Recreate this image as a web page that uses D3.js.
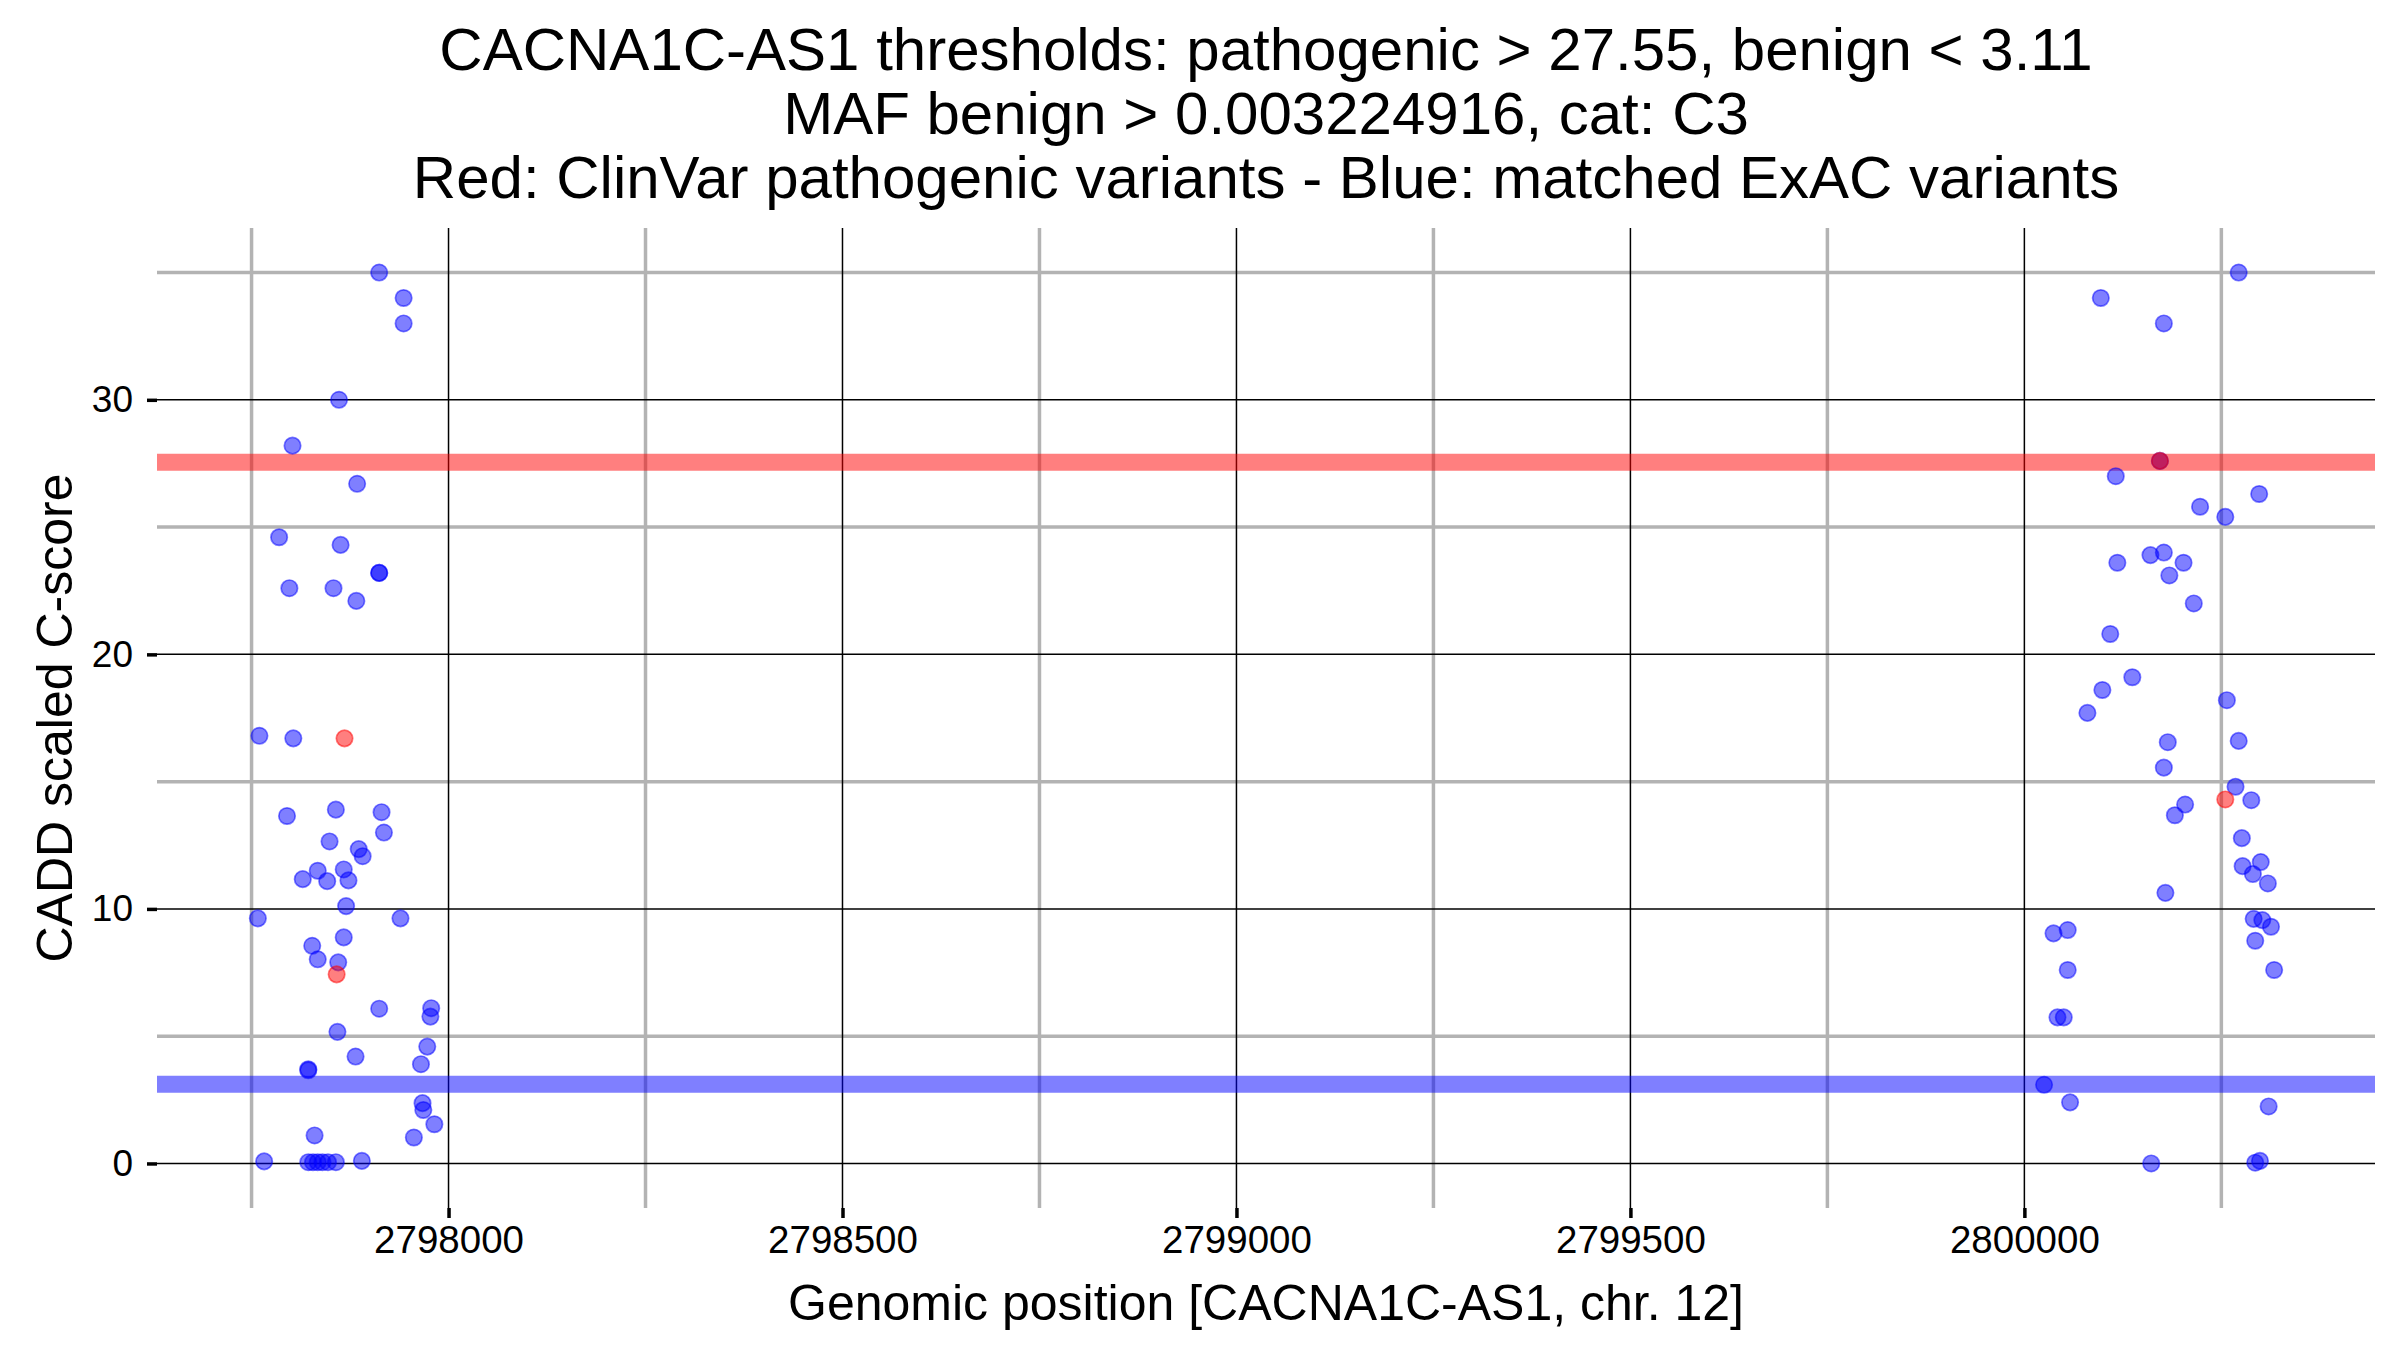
<!DOCTYPE html>
<html>
<head>
<meta charset="utf-8">
<script src="https://cdn.jsdelivr.net/npm/d3@7"></script>
<style>
  body { margin: 0; background: #fff; }
  svg text { font-family: "Liberation Sans", Arial, Helvetica, sans-serif; fill: #000; }
</style>
</head>
<body>
<div id="chart"></div>
<script>
// Data
const titleLines = [
  "CACNA1C-AS1 thresholds: pathogenic > 27.55, benign < 3.11",
  "MAF benign > 0.003224916, cat: C3",
  "Red: ClinVar pathogenic variants - Blue: matched ExAC variants"
];
const pathogenicThreshold = 27.55;
const benignThreshold = 3.11;

// matched ExAC variants (blue)
const exacPos = [
  2797912, 2797943, 2797943, 2797861, 2797802, 2797884, 2797785, 2797863, 2797912, 2797912,
  2797798, 2797854, 2797883, 2797760, 2797803, 2797795, 2797857, 2797915, 2797918, 2797849,
  2797886, 2797891, 2797834, 2797867, 2797815, 2797846, 2797873, 2797870, 2797758, 2797939,
  2797867, 2797827, 2797834, 2797860, 2797912, 2797978, 2797977, 2797859, 2797973, 2797882,
  2797965, 2797822, 2797822, 2797967, 2797968, 2797982, 2797830, 2797956, 2797766, 2797822,
  2797828, 2797834, 2797840, 2797847, 2797857, 2797890,
  2800097, 2800177, 2800272, 2800172, 2800116, 2800298, 2800223, 2800255, 2800118, 2800160,
  2800177, 2800202, 2800184, 2800215, 2800109, 2800137, 2800099, 2800080, 2800257, 2800182,
  2800272, 2800177, 2800268, 2800288, 2800204, 2800191, 2800276, 2800277, 2800300, 2800290,
  2800309, 2800179, 2800291, 2800302, 2800313, 2800293, 2800317, 2800037, 2800055, 2800055,
  2800042, 2800050, 2800025, 2800058, 2800310, 2800161, 2800293, 2800299
];
const exacScore = [
  35.0, 34.0, 33.0, 30.0, 28.2, 26.7, 24.6, 24.3, 23.2, 23.2,
  22.6, 22.6, 22.1, 16.8, 16.7, 13.65, 13.9, 13.8, 13.0, 12.65,
  12.35, 12.07, 11.5, 11.55, 11.17, 11.09, 11.12, 10.11, 9.63, 9.63,
  8.88, 8.55, 8.02, 7.9, 6.08, 6.1, 5.77, 5.17, 4.59, 4.2,
  3.9, 3.7, 3.66, 2.37, 2.1, 1.54, 1.1, 1.02, 0.08, 0.05,
  0.05, 0.05, 0.05, 0.05, 0.05, 0.1,
  34.0, 33.0, 35.0, 27.6, 27.0, 26.3, 25.8, 25.4, 23.6, 23.9,
  24.0, 23.6, 23.1, 22.0, 20.8, 19.1, 18.6, 17.7, 18.2, 16.55,
  16.6, 15.55, 14.8, 14.27, 14.1, 13.68, 12.78, 11.68, 11.84, 11.37,
  11.0, 10.63, 9.61, 9.56, 9.3, 8.75, 7.6, 9.04, 9.17, 7.6,
  5.74, 5.74, 3.09, 2.4, 2.24, 0.0, 0.03, 0.1
];

// ClinVar pathogenic variants (red)
const clinvarPos = [2797868, 2797858, 2800172, 2800255];
const clinvarScore = [16.7, 7.43, 27.6, 14.3];

const xMajor = [2798000, 2798500, 2799000, 2799500, 2800000];
const xMinor = [2797750, 2798250, 2798750, 2799250, 2799750, 2800250];
const yMajor = [0, 10, 20, 30];
const yMinor = [5, 15, 25, 35];

// Setup
const W = 2400, H = 1350;
const panel = { left: 157, right: 2375, top: 228, bottom: 1208 };

const svg = d3.select("#chart")
  .append("svg")
    .attr("width", W)
    .attr("height", H);

svg.append("rect").attr("width", W).attr("height", H).attr("fill", "#fff");

const x = d3.scaleLinear().domain([2797630, 2800445]).range([panel.left, panel.right]);
const y = d3.scaleLinear().domain([-1.75, 36.75]).range([panel.bottom, panel.top]);

// grid
const grid = svg.append("g");
grid.selectAll(".vmin").data(xMinor).enter().append("line")
  .attr("x1", d => x(d)).attr("x2", d => x(d))
  .attr("y1", panel.top).attr("y2", panel.bottom)
  .attr("stroke", "#b3b3b3").attr("stroke-width", 3.5);
grid.selectAll(".hmin").data(yMinor).enter().append("line")
  .attr("x1", panel.left).attr("x2", panel.right)
  .attr("y1", d => y(d)).attr("y2", d => y(d))
  .attr("stroke", "#b3b3b3").attr("stroke-width", 3.5);
grid.selectAll(".vmaj").data(xMajor).enter().append("line")
  .attr("x1", d => x(d)).attr("x2", d => x(d))
  .attr("y1", panel.top).attr("y2", panel.bottom)
  .attr("stroke", "#000").attr("stroke-width", 1.5);
grid.selectAll(".hmaj").data(yMajor).enter().append("line")
  .attr("x1", panel.left).attr("x2", panel.right)
  .attr("y1", d => y(d)).attr("y2", d => y(d))
  .attr("stroke", "#000").attr("stroke-width", 1.5);

// threshold bands
svg.append("line")
  .attr("x1", panel.left).attr("x2", panel.right)
  .attr("y1", y(pathogenicThreshold)).attr("y2", y(pathogenicThreshold))
  .attr("stroke", "red").attr("stroke-opacity", 0.5).attr("stroke-width", 17);
svg.append("line")
  .attr("x1", panel.left).attr("x2", panel.right)
  .attr("y1", y(benignThreshold)).attr("y2", y(benignThreshold))
  .attr("stroke", "blue").attr("stroke-opacity", 0.5).attr("stroke-width", 17);

// axes
const xAxis = svg.append("g")
  .attr("transform", `translate(0,${panel.bottom})`)
  .call(d3.axisBottom(x).tickValues(xMajor).tickFormat(d3.format("d")).tickSize(10).tickPadding(8));
const yAxis = svg.append("g")
  .attr("transform", `translate(${panel.left},0)`)
  .call(d3.axisLeft(y).tickValues(yMajor).tickSize(10).tickPadding(14));
[xAxis, yAxis].forEach(a => {
  a.select(".domain").remove();
  a.selectAll(".tick line").attr("stroke", "#000").attr("stroke-width", 3.5);
  a.selectAll(".tick text").attr("fill", "#000")
    .style("font-family", '"Liberation Sans", Arial, sans-serif');
});
xAxis.selectAll(".tick text").attr("font-size", 38.5);
yAxis.selectAll(".tick text").attr("font-size", 37);

// points
const blue = exacPos.map((p, i) => ({ pos: p, score: exacScore[i] }));
const red = clinvarPos.map((p, i) => ({ pos: p, score: clinvarScore[i] }));

svg.append("g").selectAll("circle").data(blue).enter().append("circle")
  .attr("cx", d => x(d.pos)).attr("cy", d => y(d.score)).attr("r", 8.2)
  .attr("fill", "blue").attr("fill-opacity", 0.5)
  .attr("stroke", "blue").attr("stroke-opacity", 0.5).attr("stroke-width", 1.7);
svg.append("g").selectAll("circle").data(red).enter().append("circle")
  .attr("cx", d => x(d.pos)).attr("cy", d => y(d.score)).attr("r", 8.2)
  .attr("fill", "red").attr("fill-opacity", 0.5)
  .attr("stroke", "red").attr("stroke-opacity", 0.5).attr("stroke-width", 1.7);

// titles
const cx = (panel.left + panel.right) / 2;
svg.append("g").selectAll("text").data(titleLines).enter().append("text")
  .attr("x", cx).attr("y", (d, i) => 70 + i * 64)
  .attr("text-anchor", "middle").attr("font-size", 60).text(d => d);

svg.append("text").attr("x", cx).attr("y", 1320)
  .attr("text-anchor", "middle").attr("font-size", 50)
  .text("Genomic position [CACNA1C-AS1, chr. 12]");
svg.append("text")
  .attr("transform", `translate(72,${(panel.top + panel.bottom) / 2}) rotate(-90)`)
  .attr("text-anchor", "middle").attr("font-size", 50)
  .text("CADD scaled C-score");
</script>
</body>
</html>
